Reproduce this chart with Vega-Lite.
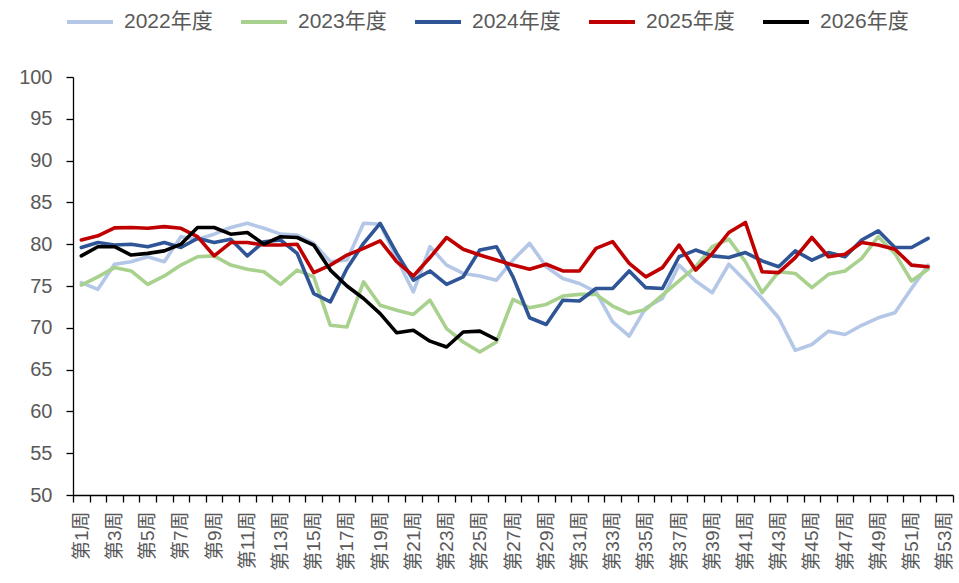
{
  "$schema": "https://vega.github.io/schema/vega-lite/v6.json",
  "width": 880,
  "height": 418,
  "autosize": {"type": "none"},
  "padding": {"left": 73, "top": 77, "right": 6, "bottom": 88},
  "background": "white",
  "config": {
    "view": {"stroke": null},
    "font": "Liberation Sans, Noto Sans CJK SC",
    "axis": {"grid": false, "title": null, "domainColor": "#000000", "domainWidth": 1.3, "tickColor": "#000000", "tickWidth": 1.3, "tickSize": 7, "labelColor": "#595959", "labelFont": "Liberation Sans, Noto Sans CJK SC"}
  },
  "data": {
    "values": [
      {"w":1,"s":"2022年度","v":75.4},{"w":2,"s":"2022年度","v":74.6},{"w":3,"s":"2022年度","v":77.6},{"w":4,"s":"2022年度","v":77.9},{"w":5,"s":"2022年度","v":78.5},{"w":6,"s":"2022年度","v":77.9},{"w":7,"s":"2022年度","v":80.9},{"w":8,"s":"2022年度","v":80.6},{"w":9,"s":"2022年度","v":81.2},{"w":10,"s":"2022年度","v":82.0},
      {"w":11,"s":"2022年度","v":82.5},{"w":12,"s":"2022年度","v":81.9},{"w":13,"s":"2022年度","v":81.2},{"w":14,"s":"2022年度","v":81.1},{"w":15,"s":"2022年度","v":80.1},{"w":16,"s":"2022年度","v":77.9},{"w":17,"s":"2022年度","v":78.1},{"w":18,"s":"2022年度","v":82.5},{"w":19,"s":"2022年度","v":82.4},{"w":20,"s":"2022年度","v":78.3},
      {"w":21,"s":"2022年度","v":74.3},{"w":22,"s":"2022年度","v":79.7},{"w":23,"s":"2022年度","v":77.5},{"w":24,"s":"2022年度","v":76.5},{"w":25,"s":"2022年度","v":76.2},{"w":26,"s":"2022年度","v":75.7},{"w":27,"s":"2022年度","v":78.1},{"w":28,"s":"2022年度","v":80.1},{"w":29,"s":"2022年度","v":77.3},{"w":30,"s":"2022年度","v":75.9},
      {"w":31,"s":"2022年度","v":75.3},{"w":32,"s":"2022年度","v":74.3},{"w":33,"s":"2022年度","v":70.7},{"w":34,"s":"2022年度","v":69.0},{"w":35,"s":"2022年度","v":72.4},{"w":36,"s":"2022年度","v":73.5},{"w":37,"s":"2022年度","v":77.5},{"w":38,"s":"2022年度","v":75.6},{"w":39,"s":"2022年度","v":74.2},{"w":40,"s":"2022年度","v":77.6},
      {"w":41,"s":"2022年度","v":75.6},{"w":42,"s":"2022年度","v":73.5},{"w":43,"s":"2022年度","v":71.2},{"w":44,"s":"2022年度","v":67.3},{"w":45,"s":"2022年度","v":68.0},{"w":46,"s":"2022年度","v":69.6},{"w":47,"s":"2022年度","v":69.2},{"w":48,"s":"2022年度","v":70.3},{"w":49,"s":"2022年度","v":71.2},{"w":50,"s":"2022年度","v":71.8},
      {"w":51,"s":"2022年度","v":74.7},{"w":52,"s":"2022年度","v":77.5},

      {"w":1,"s":"2023年度","v":75.1},{"w":2,"s":"2023年度","v":76.1},{"w":3,"s":"2023年度","v":77.2},{"w":4,"s":"2023年度","v":76.8},{"w":5,"s":"2023年度","v":75.2},{"w":6,"s":"2023年度","v":76.2},{"w":7,"s":"2023年度","v":77.5},{"w":8,"s":"2023年度","v":78.5},{"w":9,"s":"2023年度","v":78.6},{"w":10,"s":"2023年度","v":77.5},
      {"w":11,"s":"2023年度","v":77.0},{"w":12,"s":"2023年度","v":76.7},{"w":13,"s":"2023年度","v":75.2},{"w":14,"s":"2023年度","v":76.9},{"w":15,"s":"2023年度","v":76.1},{"w":16,"s":"2023年度","v":70.3},{"w":17,"s":"2023年度","v":70.1},{"w":18,"s":"2023年度","v":75.5},{"w":19,"s":"2023年度","v":72.7},{"w":20,"s":"2023年度","v":72.1},
      {"w":21,"s":"2023年度","v":71.6},{"w":22,"s":"2023年度","v":73.3},{"w":23,"s":"2023年度","v":69.9},{"w":24,"s":"2023年度","v":68.3},{"w":25,"s":"2023年度","v":67.1},{"w":26,"s":"2023年度","v":68.3},{"w":27,"s":"2023年度","v":73.4},{"w":28,"s":"2023年度","v":72.4},{"w":29,"s":"2023年度","v":72.8},{"w":30,"s":"2023年度","v":73.8},
      {"w":31,"s":"2023年度","v":74.0},{"w":32,"s":"2023年度","v":74.0},{"w":33,"s":"2023年度","v":72.6},{"w":34,"s":"2023年度","v":71.7},{"w":35,"s":"2023年度","v":72.2},{"w":36,"s":"2023年度","v":73.9},{"w":37,"s":"2023年度","v":75.6},{"w":38,"s":"2023年度","v":77.3},{"w":39,"s":"2023年度","v":79.7},{"w":40,"s":"2023年度","v":80.6},
      {"w":41,"s":"2023年度","v":77.9},{"w":42,"s":"2023年度","v":74.2},{"w":43,"s":"2023年度","v":76.7},{"w":44,"s":"2023年度","v":76.5},{"w":45,"s":"2023年度","v":74.8},{"w":46,"s":"2023年度","v":76.4},{"w":47,"s":"2023年度","v":76.8},{"w":48,"s":"2023年度","v":78.3},{"w":49,"s":"2023年度","v":80.9},{"w":50,"s":"2023年度","v":78.9},
      {"w":51,"s":"2023年度","v":75.6},{"w":52,"s":"2023年度","v":77.0},

      {"w":1,"s":"2024年度","v":79.6},{"w":2,"s":"2024年度","v":80.2},{"w":3,"s":"2024年度","v":79.9},{"w":4,"s":"2024年度","v":80.0},{"w":5,"s":"2024年度","v":79.7},{"w":6,"s":"2024年度","v":80.2},{"w":7,"s":"2024年度","v":79.6},{"w":8,"s":"2024年度","v":80.7},{"w":9,"s":"2024年度","v":80.2},{"w":10,"s":"2024年度","v":80.6},
      {"w":11,"s":"2024年度","v":78.6},{"w":12,"s":"2024年度","v":80.3},{"w":13,"s":"2024年度","v":80.5},{"w":14,"s":"2024年度","v":78.9},{"w":15,"s":"2024年度","v":74.1},{"w":16,"s":"2024年度","v":73.1},{"w":17,"s":"2024年度","v":77.1},{"w":18,"s":"2024年度","v":80.1},{"w":19,"s":"2024年度","v":82.5},{"w":20,"s":"2024年度","v":78.9},
      {"w":21,"s":"2024年度","v":75.7},{"w":22,"s":"2024年度","v":76.8},{"w":23,"s":"2024年度","v":75.2},{"w":24,"s":"2024年度","v":76.1},{"w":25,"s":"2024年度","v":79.3},{"w":26,"s":"2024年度","v":79.7},{"w":27,"s":"2024年度","v":76.1},{"w":28,"s":"2024年度","v":71.2},{"w":29,"s":"2024年度","v":70.4},{"w":30,"s":"2024年度","v":73.3},
      {"w":31,"s":"2024年度","v":73.2},{"w":32,"s":"2024年度","v":74.7},{"w":33,"s":"2024年度","v":74.7},{"w":34,"s":"2024年度","v":76.8},{"w":35,"s":"2024年度","v":74.8},{"w":36,"s":"2024年度","v":74.7},{"w":37,"s":"2024年度","v":78.5},{"w":38,"s":"2024年度","v":79.3},{"w":39,"s":"2024年度","v":78.6},{"w":40,"s":"2024年度","v":78.4},
      {"w":41,"s":"2024年度","v":79.0},{"w":42,"s":"2024年度","v":78.0},{"w":43,"s":"2024年度","v":77.3},{"w":44,"s":"2024年度","v":79.2},{"w":45,"s":"2024年度","v":78.1},{"w":46,"s":"2024年度","v":79.0},{"w":47,"s":"2024年度","v":78.5},{"w":48,"s":"2024年度","v":80.5},{"w":49,"s":"2024年度","v":81.6},{"w":50,"s":"2024年度","v":79.6},
      {"w":51,"s":"2024年度","v":79.6},{"w":52,"s":"2024年度","v":80.7},

      {"w":1,"s":"2025年度","v":80.5},{"w":2,"s":"2025年度","v":81.0},{"w":3,"s":"2025年度","v":81.95},{"w":4,"s":"2025年度","v":82.0},{"w":5,"s":"2025年度","v":81.9},{"w":6,"s":"2025年度","v":82.1},{"w":7,"s":"2025年度","v":81.9},{"w":8,"s":"2025年度","v":80.9},{"w":9,"s":"2025年度","v":78.6},{"w":10,"s":"2025年度","v":80.2},
      {"w":11,"s":"2025年度","v":80.2},{"w":12,"s":"2025年度","v":79.9},{"w":13,"s":"2025年度","v":79.9},{"w":14,"s":"2025年度","v":80.0},{"w":15,"s":"2025年度","v":76.6},{"w":16,"s":"2025年度","v":77.5},{"w":17,"s":"2025年度","v":78.7},{"w":18,"s":"2025年度","v":79.5},{"w":19,"s":"2025年度","v":80.4},{"w":20,"s":"2025年度","v":77.9},
      {"w":21,"s":"2025年度","v":76.2},{"w":22,"s":"2025年度","v":78.4},{"w":23,"s":"2025年度","v":80.8},{"w":24,"s":"2025年度","v":79.4},{"w":25,"s":"2025年度","v":78.7},{"w":26,"s":"2025年度","v":78.1},{"w":27,"s":"2025年度","v":77.5},{"w":28,"s":"2025年度","v":77.0},{"w":29,"s":"2025年度","v":77.6},{"w":30,"s":"2025年度","v":76.8},
      {"w":31,"s":"2025年度","v":76.8},{"w":32,"s":"2025年度","v":79.5},{"w":33,"s":"2025年度","v":80.3},{"w":34,"s":"2025年度","v":77.7},{"w":35,"s":"2025年度","v":76.1},{"w":36,"s":"2025年度","v":77.2},{"w":37,"s":"2025年度","v":79.9},{"w":38,"s":"2025年度","v":76.9},{"w":39,"s":"2025年度","v":78.9},{"w":40,"s":"2025年度","v":81.4},
      {"w":41,"s":"2025年度","v":82.6},{"w":42,"s":"2025年度","v":76.7},{"w":43,"s":"2025年度","v":76.6},{"w":44,"s":"2025年度","v":78.4},{"w":45,"s":"2025年度","v":80.8},{"w":46,"s":"2025年度","v":78.5},{"w":47,"s":"2025年度","v":78.8},{"w":48,"s":"2025年度","v":80.2},{"w":49,"s":"2025年度","v":79.9},{"w":50,"s":"2025年度","v":79.4},
      {"w":51,"s":"2025年度","v":77.5},{"w":52,"s":"2025年度","v":77.3},

      {"w":1,"s":"2026年度","v":78.6},{"w":2,"s":"2026年度","v":79.7},{"w":3,"s":"2026年度","v":79.7},{"w":4,"s":"2026年度","v":78.7},{"w":5,"s":"2026年度","v":78.9},{"w":6,"s":"2026年度","v":79.2},{"w":7,"s":"2026年度","v":80.0},{"w":8,"s":"2026年度","v":82.0},{"w":9,"s":"2026年度","v":82.0},{"w":10,"s":"2026年度","v":81.2},
      {"w":11,"s":"2026年度","v":81.4},{"w":12,"s":"2026年度","v":80.0},{"w":13,"s":"2026年度","v":80.9},{"w":14,"s":"2026年度","v":80.8},{"w":15,"s":"2026年度","v":79.9},{"w":16,"s":"2026年度","v":76.9},{"w":17,"s":"2026年度","v":75.0},{"w":18,"s":"2026年度","v":73.5},{"w":19,"s":"2026年度","v":71.7},{"w":20,"s":"2026年度","v":69.4},
      {"w":21,"s":"2026年度","v":69.7},{"w":22,"s":"2026年度","v":68.4},{"w":23,"s":"2026年度","v":67.7},{"w":24,"s":"2026年度","v":69.5},{"w":25,"s":"2026年度","v":69.6},{"w":26,"s":"2026年度","v":68.6}
    ]
  },
  "mark": {"type": "line", "strokeWidth": 3.6, "strokeJoin": "round", "strokeCap": "round"},
  "encoding": {
    "x": {
      "field": "w",
      "type": "ordinal",
      "scale": {
        "type": "band",
        "paddingInner": 0,
        "paddingOuter": 0,
        "domain": [1,2,3,4,5,6,7,8,9,10,11,12,13,14,15,16,17,18,19,20,21,22,23,24,25,26,27,28,29,30,31,32,33,34,35,36,37,38,39,40,41,42,43,44,45,46,47,48,49,50,51,52,53]
      },
      "axis": {
        "labelAngle": -90,
        "labelFontSize": 19,
        "labelPadding": 9,
        "tickBand": "extent",
        "labelOverlap": false,
        "labelExpr": "datum.value % 2 == 1 ? '第' + datum.value + '周' : ''"
      }
    },
    "y": {
      "field": "v",
      "type": "quantitative",
      "scale": {"domain": [50, 100], "nice": false, "zero": false},
      "axis": {"values": [50, 55, 60, 65, 70, 75, 80, 85, 90, 95, 100], "labelFontSize": 20, "labelPadding": 14}
    },
    "color": {
      "field": "s",
      "type": "nominal",
      "scale": {
        "domain": ["2022年度", "2023年度", "2024年度", "2025年度", "2026年度"],
        "range": ["#B4C7E7", "#A9D18E", "#2F5597", "#C00000", "#000000"]
      },
      "legend": {
        "title": null,
        "orient": "none",
        "direction": "horizontal",
        "legendX": -8,
        "legendY": -80,
        "symbolType": "stroke",
        "symbolSize": 2116,
        "symbolStrokeWidth": 4,
        "labelOffset": 9,
        "labelFontSize": 21,
        "labelColor": "#595959",
        "columnPadding": 20,
        "labelLimit": 200
      }
    }
  }
}
